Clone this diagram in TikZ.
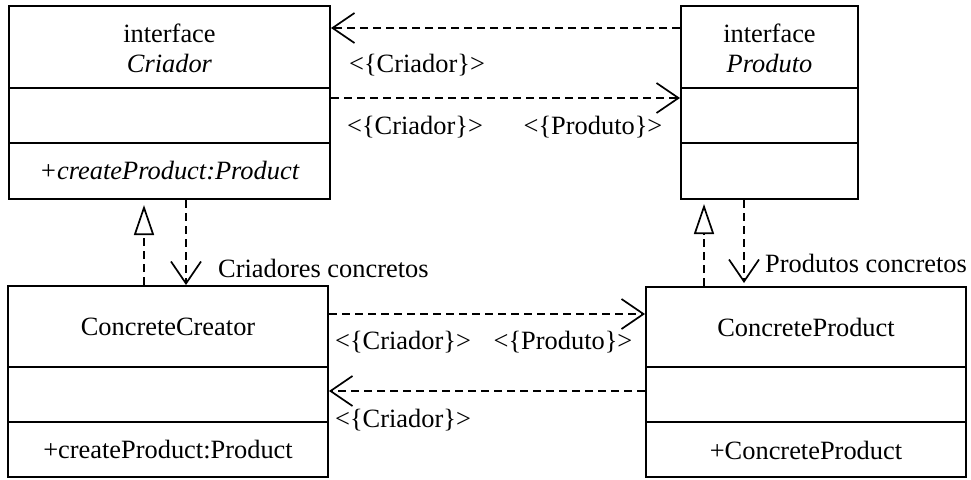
\documentclass[tikz,border=0pt]{standalone}
\usepackage{fontspec}
\setmainfont{Liberation Serif}
\usetikzlibrary{arrows.meta}
\begin{document}
\begin{tikzpicture}[x=1pt,y=-1pt,
 box/.style={draw, line width=2pt, rectangle, inner sep=0pt},
 lbl/.style={inner sep=0pt, font=\fontsize{26.4}{30}\selectfont},
 divline/.style={line width=2pt},
 dep/.style={line width=1.7pt, dash pattern=on 8pt off 5pt, line join=round,
   -{Straight Barb[length=22pt,width=30pt,line width=1.7pt]}},
 inh/.style={line width=1.7pt, dash pattern=on 8pt off 5pt, line join=miter,
   -{Triangle[open,length=30pt,width=20pt,line width=1.7pt]}}]
\useasboundingbox (0,0) rectangle (971,479);

% boxes
\node[box, minimum width=321pt, minimum height=193pt] (cr) at (169.5,102.5) {};
\node[box, minimum width=177pt, minimum height=193pt] (pr) at (769.5,102.5) {};
\node[box, minimum width=320pt, minimum height=191pt] (cc) at (168,381.5) {};
\node[box, minimum width=320pt, minimum height=190pt] (cp) at (806,382) {};

% compartment lines
\draw[divline] ([yshift=-83pt]cr.north west) -- ([yshift=-83pt]cr.north east);
\draw[divline] ([yshift=-138pt]cr.north west) -- ([yshift=-138pt]cr.north east);
\draw[divline] ([yshift=-83pt]pr.north west) -- ([yshift=-83pt]pr.north east);
\draw[divline] ([yshift=-138pt]pr.north west) -- ([yshift=-138pt]pr.north east);
\draw[divline] ([yshift=-82pt]cc.north west) -- ([yshift=-82pt]cc.north east);
\draw[divline] ([yshift=-137pt]cc.north west) -- ([yshift=-137pt]cc.north east);
\draw[divline] ([yshift=-81pt]cp.north west) -- ([yshift=-81pt]cp.north east);
\draw[divline] ([yshift=-136pt]cp.north west) -- ([yshift=-136pt]cp.north east);

% box texts
\node[lbl, align=center] (crname) at (169.5,48) {interface\\\textit{Criador}};
\node[lbl] (crop) at (169.5,171) {\textit{+createProduct:Product}};
\node[lbl, align=center] (prname) at (769.5,48) {interface\\\textit{Produto}};
\node[lbl] (ccname) at (168,327) {ConcreteCreator};
\node[lbl] (ccop) at (168,450) {+createProduct:Product};
\node[lbl] (cpname) at (806,327) {ConcreteProduct};
\node[lbl] (cpop) at (806,450) {+ConcreteProduct};

% horizontal connectors
\draw[dep] ([yshift=-23pt]pr.north west) -- ([yshift=-23pt]cr.north east);
\draw[dep] ([yshift=-93pt]cr.north east) -- ([yshift=-93pt]pr.north west);
\draw[dep] ([yshift=-29pt]cc.north east) -- ([yshift=-28pt]cp.north west);
\draw[dep] ([yshift=-105pt]cp.north west) -- ([yshift=-106pt]cc.north east);

% vertical connectors
\draw[inh, shorten >=5pt] ([xshift=137pt]cc.north west) coordinate (i1) -- (i1 |- cr.south);
\draw[dep] ([xshift=178pt]cr.south west) coordinate (d1) -- (d1 |- cc.north);
\draw[inh, shorten >=4pt] ([xshift=59pt]cp.north west) coordinate (i2) -- (i2 |- pr.south);
\draw[dep, shorten >=3pt] ([xshift=64pt]pr.south west) coordinate (d2) -- (d2 |- cp.north);

% connector labels
\node[lbl] (l1) at (417,65) {<\{Criador\}>};
\node[lbl] (l2) at (415,127) {<\{Criador\}>};
\node[lbl] (l3) at (593,127) {<\{Produto\}>};
\node[lbl] (l4) at (403,342) {<\{Criador\}>};
\node[lbl] (l5) at (563,342) {<\{Produto\}>};
\node[lbl] (l6) at (403,420) {<\{Criador\}>};
\node[lbl, anchor=west] (l7) at (218,268) {Criadores concretos};
\node[lbl, anchor=west] (l8) at (765,263) {Produtos concretos};
\end{tikzpicture}
\end{document}
